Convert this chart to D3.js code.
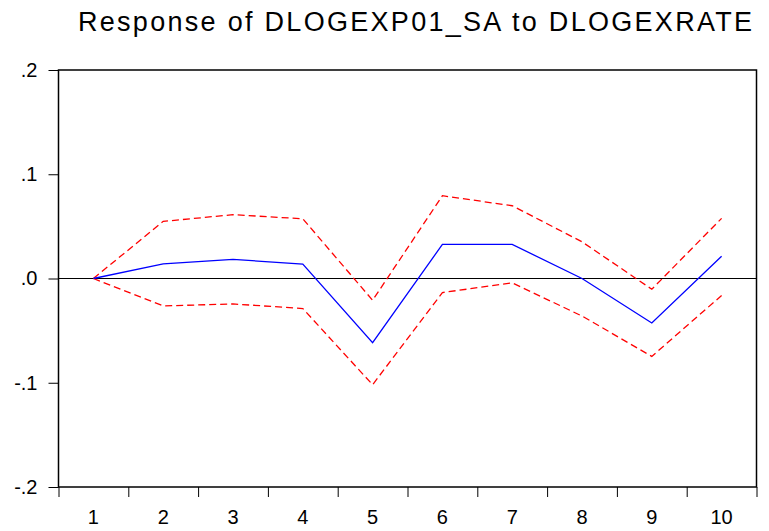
<!DOCTYPE html>
<html>
<head>
<meta charset="utf-8">
<script src="https://cdn.jsdelivr.net/npm/d3@7/dist/d3.min.js"></script>
<style>
html,body{margin:0;padding:0;background:#fff;}
svg{display:block;font-family:"Liberation Sans",Arial,sans-serif;}
</style>
</head>
<body>
<svg id="chart" width="769" height="531"></svg>
<script>
const periods = [1,2,3,4,5,6,7,8,9,10];
const response = [0.0, 0.014, 0.0183, 0.0138, -0.0615, 0.0327, 0.0327, 0.0, -0.0427, 0.0214];
const upperBand = [0.0, 0.0548, 0.0612, 0.0573, -0.0209, 0.0794, 0.0698, 0.0352, -0.0103, 0.0577];
const lowerBand = [0.0, -0.0263, -0.0244, -0.0288, -0.1019, -0.0135, -0.0042, -0.036, -0.0747, -0.0163];
const yTicks = [0.2, 0.1, 0.0, -0.1, -0.2];
const yTickLabels = [".2", ".1", ".0", "-.1", "-.2"];
const titleText = "Response of DLOGEXP01_SA to DLOGEXRATE";

const svg = d3.select("#chart");
const L = 58.5, R = 756.5, T = 70, B = 487;

const x = d3.scaleLinear().domain([0.5, 10.5]).range([L, R]);
const y = d3.scaleLinear().domain([-0.2, 0.2]).range([B, T]);

svg.append("rect").attr("x", L).attr("y", T).attr("width", R - L).attr("height", B - T)
  .attr("fill", "#fff");

// zero line
svg.append("line").attr("x1", L).attr("x2", R).attr("y1", y(0)).attr("y2", y(0))
  .attr("stroke", "#000").attr("stroke-width", 1);

const line = d3.line().x((d, i) => x(periods[i])).y(d => y(d));

svg.append("path").datum(upperBand).attr("d", line).attr("fill", "none")
  .attr("stroke", "#ff0000").attr("stroke-width", 1.3).attr("stroke-dasharray", "7,4");
svg.append("path").datum(lowerBand).attr("d", line).attr("fill", "none")
  .attr("stroke", "#ff0000").attr("stroke-width", 1.3).attr("stroke-dasharray", "7,4");
svg.append("path").datum(response).attr("d", line).attr("fill", "none")
  .attr("stroke", "#0000ff").attr("stroke-width", 1.3);

// frame
svg.append("rect").attr("x", L).attr("y", T).attr("width", R - L).attr("height", B - T)
  .attr("fill", "none").attr("stroke", "#000").attr("stroke-width", 1.5);

// y axis
const yAxis = d3.axisLeft(y).tickValues(yTicks).tickSize(10).tickPadding(11)
  .tickFormat((d, i) => yTickLabels[i]);
const gy = svg.append("g").attr("transform", `translate(${L},0)`).call(yAxis);
gy.select(".domain").remove();
gy.selectAll(".tick line").attr("stroke", "#000").attr("stroke-width", 1);
gy.selectAll(".tick text").attr("font-size", 20).attr("font-family", "Liberation Sans, Arial, sans-serif").attr("fill", "#000");

// x axis: ticks at boundaries, labels at centres
const boundaries = d3.range(0.5, 11, 1);
const gx = svg.append("g").attr("transform", `translate(0,${B})`);
gx.call(d3.axisBottom(x).tickValues(boundaries).tickSize(10).tickFormat(""));
gx.select(".domain").remove();
gx.selectAll(".tick line").attr("stroke", "#000").attr("stroke-width", 1);
gx.selectAll(".xlab").data(periods).enter().append("text")
  .attr("class", "xlab")
  .attr("x", d => x(d)).attr("y", 36.5)
  .attr("text-anchor", "middle").attr("font-size", 20).attr("fill", "#000")
  .text(d => d);

// title
svg.append("text").attr("x", 78).attr("y", 30.5).attr("text-anchor", "start")
  .attr("font-size", 27).attr("textLength", 674).attr("lengthAdjust", "spacing")
  .attr("fill", "#000").text(titleText);
</script>
</body>
</html>
